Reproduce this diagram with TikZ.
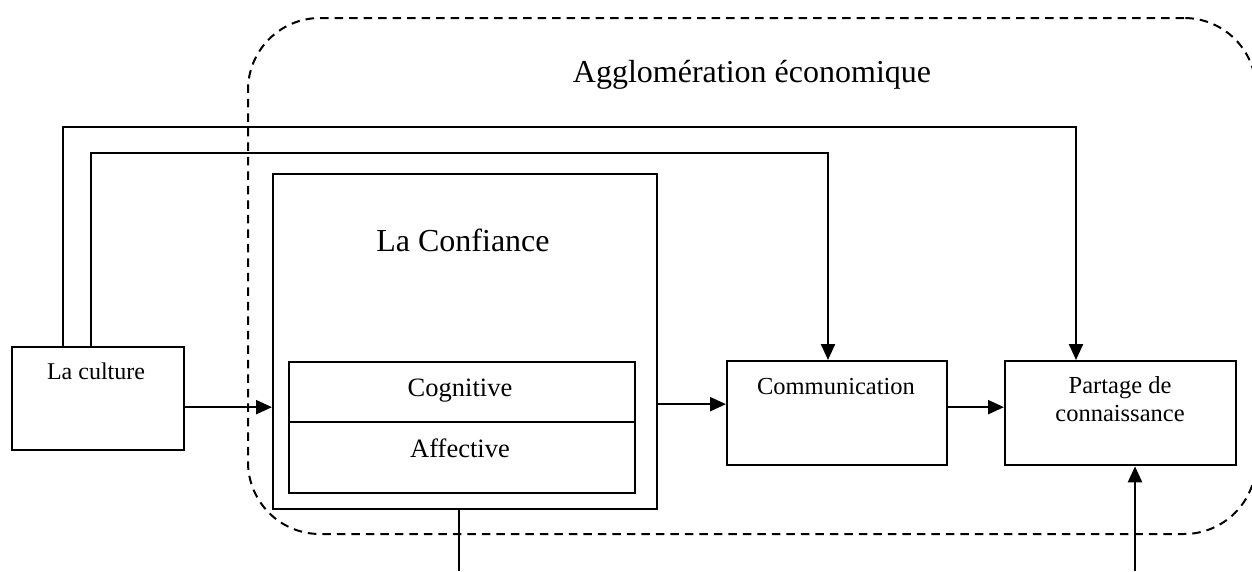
\documentclass[tikz,border=0pt]{standalone}
\usepackage{fontspec}
\setmainfont{Liberation Serif}
\usetikzlibrary{arrows.meta,calc}
\begin{document}
\begin{tikzpicture}[x=1pt,y=-1pt,
  box/.style={draw, line width=2.3pt, inner sep=0pt, anchor=north west},
  conn/.style={line width=2.3pt},
  arr/.style={conn, -{Triangle[length=16pt,width=14pt]}},
  zone/.style={draw, dash pattern=on 8.5pt off 6pt, line width=2pt,
    rounded corners=72pt, inner sep=0pt, anchor=north west},
  lbl/.style={inner sep=0pt, anchor=base},
  big/.style={font=\fontsize{32}{38}\selectfont},
  mid/.style={font=\fontsize{26.5}{31}\selectfont},
  small/.style={font=\fontsize{24.5}{28}\selectfont},
]
\useasboundingbox (0,0) rectangle (1252,571);

% economic agglomeration zone
\node[zone, minimum width=1008pt, minimum height=516pt] (zone) at (247,17) {};
\node[lbl, big] (zone-t) at (752,82) {Agglomération économique};

% boxes
\node[box, minimum width=172pt, minimum height=103pt] (cult) at (11,346) {};
\node[box, minimum width=384pt, minimum height=335pt] (conf) at (272,173) {};
\node[box, minimum width=346pt, minimum height=60pt] (cog) at (288,361) {};
\node[box, minimum width=346pt, minimum height=71pt] (aff) at (288,421) {};
\node[box, minimum width=220pt, minimum height=104pt] (comm) at (726,360) {};
\node[box, minimum width=231pt, minimum height=104pt] (part) at (1004,360) {};

% labels
\node[lbl, font=\fontsize{24}{28}\selectfont] (cult-t) at (96,379) {La culture};
\node[lbl, big] (conf-t) at (463,251) {La Confiance};
\node[lbl, mid] (cog-t) at (460,396) {Cognitive};
\node[lbl, mid] (aff-t) at (460,457) {Affective};
\node[lbl, small] (comm-t) at (836,394) {Communication};
\node[lbl, small, align=center, anchor=north] (part-t) at (1120,376)
  {Partage de\\connaissance};

% connectors
\draw[arr] ([xshift=52pt]cult.north west) -- ++(0,-219)
  -| ([xshift=72pt]part.north west);
\draw[arr] ([xshift=80pt]cult.north west) -- ++(0,-193)
  -| ([xshift=102pt]comm.north west);
\coordinate (a1) at ($(conf.west)+(0,65.5)$);
\draw[arr] (cult.east |- a1) -- (a1);
\coordinate (a2) at ($(comm.west)+(0,-9)$);
\draw[arr] (conf.east |- a2) -- (a2);
\coordinate (a3) at ($(part.west)+(0,-6)$);
\draw[arr] (comm.east |- a3) -- (a3);
\coordinate (b1) at (459,571);
\draw[conn] (b1 |- conf.south) -- (b1);
\coordinate (b2) at (1135,571);
\draw[arr] (b2) -- (b2 |- part.south);
\end{tikzpicture}
\end{document}
